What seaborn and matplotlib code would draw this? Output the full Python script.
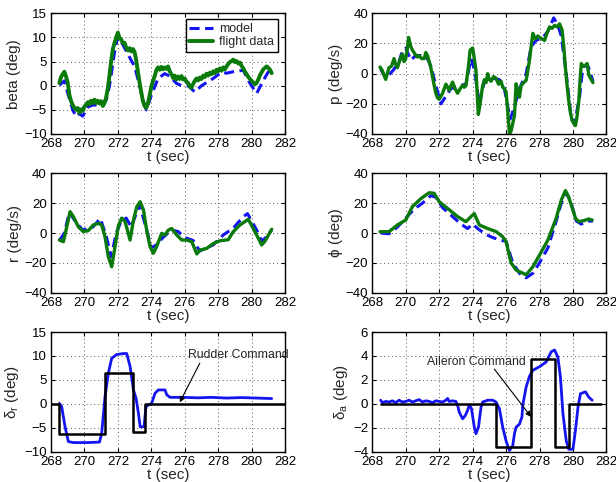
import matplotlib
matplotlib.use("Agg")
import matplotlib.pyplot as plt
import seaborn as sns

# ---------------- lateral flight test: sideslip ----------------
beta_t_flight = [268.5, 268.6, 268.7, 268.8, 268.9, 269.0, 269.1, 269.2, 269.3, 269.4,
                 269.5, 269.6, 269.7, 269.8, 269.9, 270.0, 270.1, 270.2, 270.3, 270.4,
                 270.5, 270.6, 270.7, 270.8, 270.9, 271.0, 271.1, 271.2, 271.3, 271.4,
                 271.5, 271.6, 271.7, 271.8, 271.9, 272.0, 272.1, 272.2, 272.3, 272.4,
                 272.5, 272.6, 272.7, 272.8, 272.9, 273.0, 273.1, 273.2, 273.3, 273.4,
                 273.5, 273.6, 273.7, 273.8, 273.9, 274.0, 274.1, 274.2, 274.3, 274.4,
                 274.5, 274.6, 274.7, 274.8, 274.9, 275.0, 275.1, 275.2, 275.3, 275.4,
                 275.5, 275.6, 275.7, 275.8, 275.9, 276.0, 276.1, 276.2, 276.3, 276.4,
                 276.5, 276.6, 276.7, 276.8, 276.9, 277.0, 277.1, 277.2, 277.3, 277.4,
                 277.5, 277.6, 277.7, 277.8, 277.9, 278.0, 278.1, 278.2, 278.3, 278.4,
                 278.5, 278.6, 278.7, 278.8, 278.9, 279.0, 279.1, 279.2, 279.3, 279.4,
                 279.5, 279.6, 279.7, 279.8, 279.9, 280.0, 280.1, 280.2, 280.3, 280.4,
                 280.5, 280.6, 280.7, 280.8, 280.9, 281.0, 281.1, 281.2]
beta_flight = [0.6, 1.8, 2.4, 2.9, 1.9, 0.6, -1.9, -3.2, -4.0, -4.6,
               -5.0, -4.6, -5.6, -4.9, -5.2, -4.3, -4.0, -3.4, -3.8, -3.1,
               -3.6, -2.9, -3.6, -3.1, -3.7, -3.2, -4.2, -3.6, -2.4, -0.5,
               2.2, 5.2, 7.6, 8.9, 10.0, 11.0, 9.8, 9.6, 8.8, 8.9,
               7.9, 7.3, 7.8, 7.1, 7.6, 7.0, 5.2, 2.8, 0.6, -1.4,
               -3.2, -4.2, -4.6, -3.6, -2.0, -0.2, 1.0, 2.0, 3.2, 3.8,
               3.3, 3.9, 3.4, 3.8, 3.5, 4.0, 3.0, 2.4, 1.6, 2.1,
               1.3, 1.9, 1.4, 2.0, 1.3, 1.5, 0.8, 0.6, -0.2, -0.4,
               0.4, 1.0, 1.5, 1.1, 1.7, 1.4, 2.1, 1.8, 2.5, 2.1,
               2.7, 2.4, 3.0, 2.6, 3.3, 3.0, 3.6, 3.1, 3.8, 3.4,
               4.0, 4.5, 4.9, 5.1, 5.4, 4.9, 5.1, 4.6, 4.8, 4.1,
               3.6, 2.9, 2.4, 1.8, 1.4, 1.0, 0.6, 0.3, 0.6, 1.3,
               2.2, 2.8, 3.4, 3.7, 4.0, 3.7, 3.3, 2.6]
beta_t_model = [268.5, 268.8, 269.0, 269.3, 269.5, 269.7, 269.9, 270.2, 270.5, 271.0,
                271.3, 271.5, 271.8, 272.0, 272.3, 272.6, 273.0, 273.3, 273.5, 273.7,
                274.0, 274.4, 274.8, 275.1, 275.5, 275.8, 276.2, 276.6, 277.0, 277.7,
                278.2, 278.5, 278.9, 279.5, 279.9, 280.3, 280.7, 281.0, 281.2]
beta_model = [0.1, 1.0, -1.5, -5.0, -6.4, -5.8, -6.3, -4.4, -4.0, -4.0,
              -3.0, 0.0, 7.0, 10.2, 8.5, 6.5, 4.0, 0.0, -3.0, -5.0,
              -2.0, 1.5, 2.5, 2.0, 0.5, 0.0, 0.0, -1.3, 0.0, 1.5,
              2.8, 2.6, 2.9, 3.2, 0.5, -1.6, 1.1, 2.9, 3.2]

# ---------------- roll rate ----------------
p_t_flight = [268.46, 268.6, 268.8, 269.0, 269.15, 269.3, 269.4, 269.5, 269.65, 269.8,
              269.9, 270.0, 270.1, 270.17, 270.3, 270.4, 270.55, 270.7, 270.8, 270.95,
              271.1, 271.2, 271.3, 271.4, 271.5, 271.65, 271.8, 271.9, 272.0, 272.1,
              272.2, 272.3, 272.4, 272.5, 272.6, 272.7, 272.8, 272.95, 273.1, 273.25,
              273.4, 273.5, 273.6, 273.75, 273.85, 274.0, 274.1, 274.2, 274.28, 274.34,
              274.42, 274.5, 274.6, 274.7, 274.8, 274.9, 275.0, 275.1, 275.25, 275.4,
              275.55, 275.7, 275.8, 275.9, 276.0, 276.1, 276.2, 276.3, 276.4, 276.5,
              276.6, 276.7, 276.8, 276.9, 277.05, 277.2, 277.3, 277.4, 277.5, 277.6,
              277.75, 277.9, 278.0, 278.15, 278.3, 278.45, 278.6, 278.75, 278.9, 279.05,
              279.2, 279.35, 279.45, 279.55, 279.65, 279.75, 279.85, 279.95, 280.05, 280.15,
              280.25, 280.35, 280.42, 280.5, 280.6, 280.75, 280.85, 280.95, 281.05, 281.2]
p_flight = [4.4, 2.0, -3.8, 4.0, 5.0, 10.0, 6.0, 4.0, 9.0, 13.0,
            8.0, 10.0, 17.0, 24.0, 18.0, 15.6, 13.0, 11.0, 12.0, 10.0,
            10.0, 14.0, 12.0, 8.0, 4.0, -5.0, -13.0, -16.0, -17.0, -15.0,
            -13.0, -10.0, -7.0, -9.0, -11.0, -8.0, -5.6, -10.0, -13.0, -10.0,
            -7.8, -9.0, -8.0, 5.0, 15.6, 17.0, 10.0, 2.0, -15.0, -27.0,
            -22.0, -15.6, -8.0, -4.0, -6.0, 0.0, -4.0, -5.0, -2.0, -3.0,
            -7.0, -5.0, -9.0, -10.0, -12.0, -25.0, -40.0, -38.0, -33.0, -28.0,
            -6.7, -12.0, -15.6, -8.0, -6.0, -4.4, 2.0, 9.0, 18.0, 26.7,
            23.0, 25.0, 24.0, 23.0, 22.0, 27.0, 31.0, 30.0, 32.0, 31.0,
            33.0, 29.0, 18.0, 4.0, -8.0, -18.0, -26.0, -31.0, -33.0, -34.4,
            -28.0, -18.0, -5.0, 6.7, 5.0, 5.6, 6.7, -1.0, -3.0, -6.0]
p_t_model = [268.5, 268.8, 269.0, 269.3, 269.6, 269.8, 270.0, 270.3, 270.6, 270.9,
             271.3, 271.5, 271.9, 272.1, 272.4, 272.7, 273.2, 273.6, 273.9, 274.1,
             274.4, 274.7, 275.2, 275.6, 275.9, 276.1, 276.25, 276.5, 276.8, 277.2,
             277.5, 277.8, 278.2, 278.5, 278.85, 279.1, 279.3, 279.6, 279.9, 280.1,
             280.4, 280.6, 280.9, 281.2]
p_model = [3.0, -3.0, -1.0, 3.0, 8.0, 15.0, 17.0, 9.0, 12.0, 12.0,
           10.0, 5.0, -12.0, -20.0, -15.0, -10.0, -8.0, -7.0, 10.0, 3.0,
           -20.0, -5.0, -3.0, -4.0, -10.0, -22.0, -30.0, -22.0, -10.0, 0.0,
           18.0, 22.0, 24.0, 28.0, 37.0, 32.0, 25.0, 0.0, -30.0, -33.0,
           -15.0, 5.0, 5.0, -5.0]

# ---------------- yaw rate ----------------
r_t_flight = [268.5, 268.74, 268.94, 269.14, 269.34, 269.64, 269.93, 270.23, 270.53, 270.83,
              271.03, 271.23, 271.43, 271.63, 271.83, 272.03, 272.23, 272.43, 272.73, 272.93,
              273.13, 273.33, 273.53, 273.72, 273.92, 274.12, 274.32, 274.62, 274.82, 275.02,
              275.22, 275.52, 275.82, 276.12, 276.42, 276.72, 276.92, 277.31, 277.71, 278.11,
              278.6, 278.9, 279.3, 279.8, 280.2, 280.6, 280.8, 281.2]
r_flight = [-4.7, -5.8, 4.0, 14.3, 11.0, 4.0, 1.0, 1.6, 5.4, 6.5,
            5.4, -2.5, -16.0, -22.6, -9.0, 5.0, 10.0, 7.6, -4.7, 8.7,
            17.6, 21.0, 15.4, 2.0, -9.0, -13.6, -9.0, -0.2, -1.3, 2.0,
            3.0, -1.3, -4.7, -4.7, -5.8, -14.0, -11.4, -10.3, -7.0, -5.2,
            -4.5, 0.9, 5.4, 9.2, 0.9, -8.0, -5.4, 2.5]
r_t_model = [268.5, 268.8, 269.1, 269.5, 269.9, 270.5, 270.95, 271.3, 271.6, 271.9,
             272.2, 272.5, 272.8, 273.3, 273.7, 274.0, 274.3, 274.7, 275.2, 275.6,
             276.0, 276.5, 276.9, 277.7, 278.3, 278.9, 279.5, 279.75, 280.3, 280.6,
             280.9, 281.2]
r_model = [-5.0, 0.0, 14.0, 7.0, 2.0, 4.0, 9.8, -2.0, -16.0, 0.0,
           8.0, 10.0, 4.0, 19.0, 3.0, -10.0, -8.0, -3.0, 2.0, 1.0,
           -3.0, -5.0, -12.0, -8.0, -1.3, 3.2, 11.0, 13.0, 2.0, -5.4,
           -2.5, 2.0]

# ---------------- bank angle ----------------
phi_t_flight = [268.46, 269.0, 269.5, 270.0, 270.4, 270.9, 271.4, 271.7, 272.0, 272.5,
                273.1, 273.6, 273.9, 274.1, 274.4, 274.9, 275.4, 275.8, 276.0, 276.3,
                276.6, 277.2, 277.6, 278.0, 278.5, 279.0, 279.3, 279.55, 279.75, 280.15,
                280.35, 280.65, 280.95, 281.15]
phi_flight = [0.9, 0.9, 5.4, 8.7, 17.7, 23.0, 27.0, 26.6, 21.0, 16.5,
              11.0, 7.6, 11.0, 13.0, 5.4, 3.0, 1.0, -2.5, -5.8, -20.0,
              -24.8, -28.0, -22.6, -14.8, -4.7, 10.0, 22.0, 28.4, 24.0, 10.0,
              7.6, 8.3, 9.4, 8.7]
phi_t_model = [268.5, 269.0, 269.5, 270.0, 270.5, 271.0, 271.5, 271.8, 272.2, 272.7,
               273.3, 273.7, 274.0, 274.3, 274.8, 275.2, 275.7, 276.0, 276.4, 276.8,
               277.2, 277.6, 278.0, 278.5, 279.0, 279.3, 279.6, 279.9, 280.2, 280.5,
               280.9, 281.2]
phi_model = [0.0, -0.5, 4.0, 10.0, 16.0, 20.0, 25.0, 24.0, 17.0, 12.0,
             6.0, 3.0, 6.0, 3.0, -1.0, -3.0, -5.0, -5.5, -20.0, -27.0,
             -30.0, -27.0, -20.0, -10.0, 8.0, 20.0, 27.0, 20.0, 8.0, 6.0,
             8.0, 8.0]

# ---------------- rudder ----------------
rud_cmd_t = [268.0, 268.5, 271.25, 272.9, 273.65, 282.0]
rud_cmd = [0.0, -6.4, 6.5, -5.9, 0.0, 0.0]
rud_t = [268.5, 268.64, 268.84, 269.04, 269.34, 270.13, 270.9, 271.03, 271.23, 271.43,
         271.63, 271.93, 272.33, 272.53, 272.73, 272.93, 273.09, 273.23, 273.33, 273.56,
         273.68, 273.82, 274.02, 274.22, 274.42, 274.82, 274.92, 275.12, 275.92, 276.8,
         277.6, 278.5, 279.4, 280.3, 281.2]
rud = [0.1, -0.6, -4.8, -7.9, -8.1, -8.1, -8.0, -6.2, 1.5, 6.4,
       9.5, 10.3, 10.5, 10.5, 7.8, 2.9, 1.1, -2.0, -4.8, -4.8,
       -0.6, -0.25, 0.1, 2.2, 2.9, 2.9, 1.9, 1.35, 1.35, 1.25,
       1.35, 1.2, 1.3, 1.2, 1.1]

# ---------------- aileron ----------------
ail_cmd_t = [268.5, 275.4, 277.5, 278.9, 279.75, 281.7]
ail_cmd = [0.0, -3.6, 3.75, -3.6, 0.0, 0.0]
ail_t = [268.5, 268.6, 268.8, 269.0, 269.2, 269.4, 269.6, 269.8, 270.0, 270.2,
         270.4, 270.6, 270.8, 271.0, 271.2, 271.4, 271.6, 271.8, 272.0, 272.2,
         272.4, 272.5, 272.6, 272.8, 273.0, 273.1, 273.2, 273.4, 273.55, 273.7,
         273.8, 273.93, 274.1, 274.2, 274.35, 274.5, 274.6, 274.9, 275.2, 275.4,
         275.6, 275.8, 276.0, 276.2, 276.4, 276.5, 276.6, 276.8, 276.95, 277.0,
         277.2, 277.4, 277.6, 278.0, 278.4, 278.7, 278.9, 279.1, 279.25, 279.4,
         279.6, 279.75, 280.0, 280.15, 280.3, 280.45, 280.75, 280.95, 281.15]
ail = [0.3, 0.1, 0.2, 0.15, 0.25, 0.1, 0.3, 0.15, 0.2, 0.3,
       0.15, 0.25, 0.35, 0.15, 0.25, 0.2, 0.1, 0.25, 0.2, 0.15,
       0.3, 0.45, 0.2, 0.25, 0.2, -0.1, -0.7, -1.25, -1.0, -0.55,
       -0.1, -0.4, -1.95, -2.5, -1.95, -0.3, 0.15, 0.3, 0.3, 0.15,
       -0.4, -1.95, -3.1, -3.9, -3.5, -2.5, -1.95, -1.7, -1.1, -0.1,
       1.4, 2.3, 2.8, 3.1, 3.5, 4.35, 4.5, 3.9, 2.25, -0.8,
       -3.1, -3.8, -3.8, -2.2, -0.3, 0.85, 1.0, 0.55, 0.3]

GREEN = "#0a7a0a"
BLUE = "#1414f0"
TICKS_T = [268, 270, 272, 274, 276, 278, 280, 282]
TICK_FS = 9.5
LABEL_FS = 11

sns.set_style("white")
plt.rcParams["font.family"] = ["Liberation Sans", "DejaVu Sans"]
plt.rcParams["mathtext.fontset"] = "custom"
plt.rcParams["mathtext.rm"] = "Liberation Sans"
plt.rcParams["mathtext.it"] = "Liberation Sans"
plt.rcParams["axes.unicode_minus"] = True

fig = plt.figure(figsize=(6.16, 4.82), dpi=100)
L, R, W = 0.0828, 0.6044, 0.380
rows = [(0.722, 0.2504), (0.3927, 0.2477), (0.0629, 0.2483)]
axes = [[fig.add_axes([x, b, W, h]) for x in (L, R)] for (b, h) in rows]


def style_axis(ax, ylim, yticks, ylabel):
    ax.set_xlim(268, 282)
    ax.set_xticks(TICKS_T)
    ax.set_ylim(*ylim)
    ax.set_yticks(yticks)
    ax.grid(True, color="0.35", linestyle=(0, (1, 3)), linewidth=0.7)
    ax.set_axisbelow(True)
    ax.tick_params(direction="in", length=3, width=0.8, colors="black",
                   bottom=True, left=True, top=True, right=True,
                   labelsize=TICK_FS, pad=3)
    for s in ax.spines.values():
        s.set_color("black")
        s.set_linewidth(1.0)
    ax.set_xlabel("t (sec)", fontsize=LABEL_FS, labelpad=0)
    ax.set_ylabel(ylabel, fontsize=LABEL_FS, labelpad=2)


def compare(ax, t_model, model, t_flight, flight, lw_flight=2.4):
    sns.lineplot(x=t_model, y=model, ax=ax, color=BLUE, linewidth=2.2,
                 linestyle=(0, (3.3, 1.8)), sort=False, estimator=None,
                 label="model")
    sns.lineplot(x=t_flight, y=flight, ax=ax, color=GREEN, linewidth=lw_flight,
                 sort=False, estimator=None, label="flight data")


ax = axes[0][0]
compare(ax, beta_t_model, beta_model, beta_t_flight, beta_flight, lw_flight=2.8)
style_axis(ax, (-10, 15), [-10, -5, 0, 5, 10, 15], "beta (deg)")
leg = ax.legend(loc="upper right", bbox_to_anchor=(0.97, 0.95), fontsize=9,
                frameon=True, fancybox=False, edgecolor="black", framealpha=1,
                borderpad=0.3, handlelength=1.9, handletextpad=0.5,
                labelspacing=0.1, borderaxespad=0)
leg.get_frame().set_linewidth(1.0)

ax = axes[0][1]
compare(ax, p_t_model, p_model, p_t_flight, p_flight)
style_axis(ax, (-40, 40), [-40, -20, 0, 20, 40], "p (deg/s)")
ax.get_legend().remove()

ax = axes[1][0]
compare(ax, r_t_model, r_model, r_t_flight, r_flight)
style_axis(ax, (-40, 40), [-40, -20, 0, 20, 40], "r (deg/s)")
ax.get_legend().remove()

ax = axes[1][1]
compare(ax, phi_t_model, phi_model, phi_t_flight, phi_flight)
style_axis(ax, (-40, 40), [-40, -20, 0, 20, 40], "\u03d5 (deg)")
ax.get_legend().remove()

arrow = dict(arrowstyle="-|>", color="black", lw=0.8,
             mutation_scale=8, shrinkA=0, shrinkB=0)

ax = axes[2][0]
sns.lineplot(x=rud_t, y=rud, ax=ax, color=BLUE, linewidth=2.0,
             sort=False, estimator=None)
sns.lineplot(x=rud_cmd_t, y=rud_cmd, ax=ax, color="black", linewidth=1.8,
             sort=False, estimator=None, drawstyle="steps-post")
style_axis(ax, (-10, 15), [-10, -5, 0, 5, 10, 15], r"$\delta_{\mathrm{r}}$ (deg)")
ax.text(276.2, 10.2, "Rudder Command", fontsize=8.8, va="center", ha="left",
        clip_on=False)
ax.annotate("", xy=(275.7, 0.3), xytext=(276.9, 8.5), arrowprops=arrow)

ax = axes[2][1]
sns.lineplot(x=ail_t, y=ail, ax=ax, color=BLUE, linewidth=2.0,
             sort=False, estimator=None)
sns.lineplot(x=ail_cmd_t, y=ail_cmd, ax=ax, color="black", linewidth=1.8,
             sort=False, estimator=None, drawstyle="steps-post")
style_axis(ax, (-4, 6), [-4, -2, 0, 2, 4, 6], r"$\delta_{\mathrm{a}}$ (deg)")
ax.text(271.3, 3.5, "Aileron Command", fontsize=8.8, va="center", ha="left")
ax.annotate("", xy=(277.5, -1.1), xytext=(275.3, 2.9), arrowprops=arrow)

fig.savefig("out.png", dpi=100)
